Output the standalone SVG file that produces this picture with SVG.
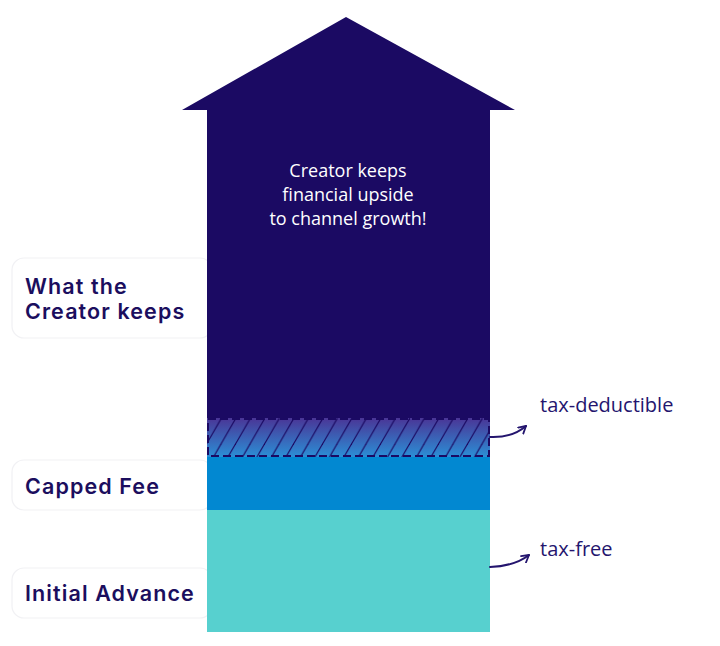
<svg xmlns="http://www.w3.org/2000/svg" width="720" height="646" viewBox="0 0 720 646">
<defs>
<linearGradient id="bandGrad" x1="0" y1="0" x2="0" y2="1">
<stop offset="0" stop-color="#4a3596"/>
<stop offset="1" stop-color="#2b8fd6"/>
</linearGradient>
<pattern id="hatch" patternUnits="userSpaceOnUse" width="14.5" height="39" x="207" y="418">
<line x1="-8" y1="39" x2="14.5" y2="0" stroke="#1b0a63" stroke-width="1.2"/>
<line x1="6.5" y1="39" x2="29" y2="0" stroke="#1b0a63" stroke-width="1.2"/>
</pattern>
<marker id="ah" viewBox="0 0 10 10" refX="8" refY="5" markerWidth="10" markerHeight="10" orient="auto" markerUnits="userSpaceOnUse">
<path d="M1,1 L8,5 L1,9" fill="none" stroke="#24156e" stroke-width="1.8" stroke-linecap="round" stroke-linejoin="round"/>
</marker>
</defs>
<style>
.lbl{font-family:"Inter","Noto Sans",sans-serif;font-weight:600;font-size:21.5px;letter-spacing:1.1px;fill:#1b0e5e}
.box{fill:#ffffff;stroke:#f1f1f4;stroke-width:1.2}
.hand{font-family:"Open Sans","DejaVu Sans",sans-serif;font-size:18px}
.note{font-family:"Open Sans","DejaVu Sans",sans-serif;font-size:20px;fill:#24156e}
.conn{fill:none;stroke:#24156e;stroke-width:2;stroke-linecap:round}
</style>
<rect width="720" height="646" fill="#ffffff"/>
<g id="label-keeps">
<rect class="box" x="12" y="258" width="200" height="80" rx="12"/>
<text class="lbl" x="25" y="294">What the</text>
<text class="lbl" x="25" y="319">Creator keeps</text>
</g>
<g id="label-fee">
<rect class="box" x="12" y="460" width="200" height="50" rx="12"/>
<text class="lbl" x="25" y="494">Capped Fee</text>
</g>
<g id="label-advance">
<rect class="box" x="12" y="568" width="200" height="50" rx="12"/>
<text class="lbl" x="25" y="601">Initial Advance</text>
</g>
<g id="arrow-keeps">
<path d="M346,17 L515,110 L490,110 L490,418 L207,418 L207,110 L182,110 Z" fill="#1b0a63"/>
<text class="hand" text-anchor="middle" fill="#ffffff"><tspan x="348" y="177">Creator keeps</tspan><tspan x="348" y="201">financial upside</tspan><tspan x="348" y="225">to channel growth!</tspan></text>
</g>
<g id="band-deductible">
<rect x="207" y="418" width="283" height="39" fill="url(#bandGrad)"/>
<rect x="207" y="418" width="283" height="39" fill="url(#hatch)"/>
<rect x="208" y="419" width="281" height="37" fill="none" stroke="#1b0a63" stroke-width="2" stroke-dasharray="8,4"/>
</g>
<g id="block-fee">
<rect x="207" y="457" width="283" height="53" fill="#0288d1"/>
</g>
<g id="block-advance">
<rect x="207" y="510" width="283" height="122" fill="#57d0cf"/>
</g>
<g id="note-deductible">
<text class="note" x="540" y="412">tax-deductible</text>
</g>
<g id="note-free">
<text class="note" x="540" y="556">tax-free</text>
</g>
<g id="connectors">
<path class="conn" d="M490,437 Q512,438 526,426" marker-end="url(#ah)"/>
<path class="conn" d="M490,567 Q515,566 529,555" marker-end="url(#ah)"/>
</g>
</svg>
